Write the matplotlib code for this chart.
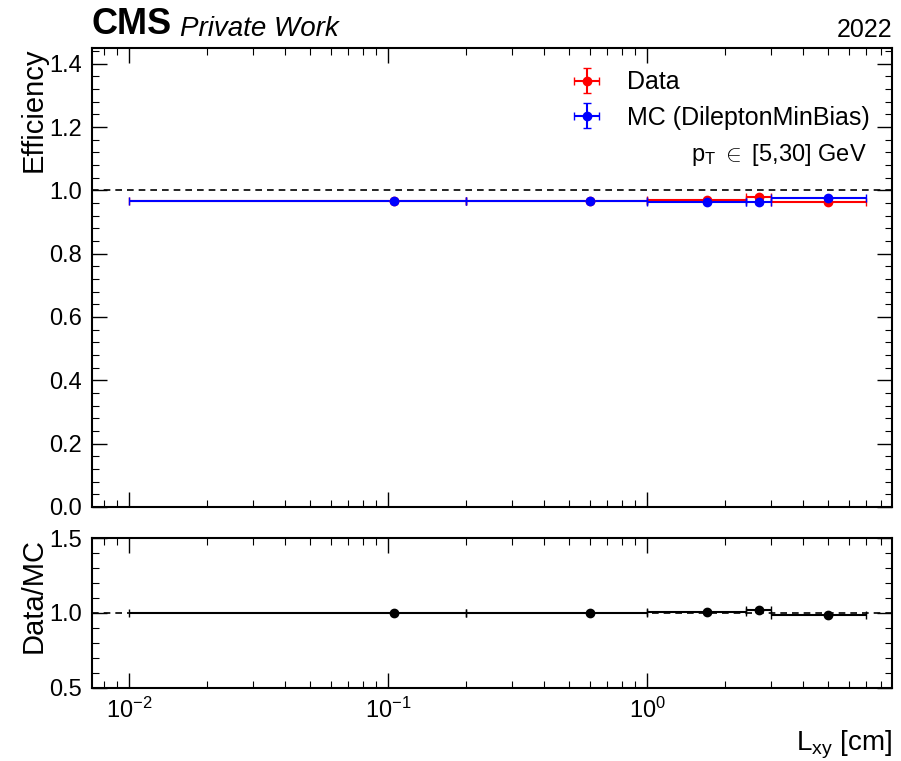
import numpy as np
import matplotlib.pyplot as plt
from matplotlib.ticker import AutoMinorLocator, LogLocator, NullFormatter

# ========= DATA =========
bin_edges = [0.01, 0.2, 1.0, 2.4, 3.0, 7.0]
eff_data = [0.967, 0.967, 0.970, 0.979, 0.964]
err_data = [0.003, 0.003, 0.004, 0.006, 0.004]
eff_mc = [0.965, 0.967, 0.962, 0.963, 0.975]
err_mc = [0.002, 0.002, 0.003, 0.005, 0.003]

year = '2022'
pt_label = r'p$_\mathregular{T}$ $\in$ [5,30] GeV'

# ========= STYLE =========
plt.rcParams['font.family'] = ['Liberation Sans', 'DejaVu Sans']
plt.rcParams['mathtext.fontset'] = 'custom'
plt.rcParams['mathtext.rm'] = 'Liberation Sans'
plt.rcParams['mathtext.it'] = 'Liberation Sans:italic'


def style_axis(ax):
    ax.tick_params(which='both', direction='in', top=True, right=True, labelsize=17)
    ax.tick_params(which='major', length=11, width=1.0, pad=7)
    ax.tick_params(which='minor', length=5, width=0.8)
    ax.yaxis.set_minor_locator(AutoMinorLocator(5))
    ax.xaxis.set_major_locator(LogLocator(base=10, numticks=10))
    ax.xaxis.set_minor_locator(LogLocator(base=10, subs=np.arange(2, 10), numticks=20))
    ax.xaxis.set_minor_formatter(NullFormatter())
    for sp in ax.spines.values():
        sp.set_linewidth(1.5)


edges = np.array(bin_edges)
centers = (edges[:-1] + edges[1:]) / 2
xlo = centers - edges[:-1]
xhi = edges[1:] - centers
ratio = np.array(eff_data) / np.array(eff_mc)
ratio_err = ratio * np.sqrt((np.array(err_data) / eff_data) ** 2 + (np.array(err_mc) / eff_mc) ** 2)

fig = plt.figure(figsize=(9.01, 7.61), dpi=100)
ax = fig.add_axes([0.102, 0.334, 0.888, 0.603])
rax = fig.add_axes([0.102, 0.096, 0.888, 0.197])

xlim = (0.0072, 8.8)

# main panel
ax.errorbar(centers, eff_data, xerr=[xlo, xhi], yerr=err_data, fmt='o', color='red',
            markersize=6, elinewidth=1.5, capsize=3, label='Data')
ax.errorbar(centers, eff_mc, xerr=[xlo, xhi], yerr=err_mc, fmt='o', color='blue',
            markersize=6, elinewidth=1.5, capsize=3, label='MC (DileptonMinBias)')
ax.axhline(1.0, color='black', linestyle='--', linewidth=1.2, dashes=(4, 3))
ax.set_xscale('log')
ax.set_xlim(*xlim)
ax.set_ylim(0, 1.45)
ax.set_yticks(np.arange(0, 1.41, 0.2))
style_axis(ax)
ax.tick_params(labelbottom=False)
ax.set_ylabel('Efficiency', fontsize=21, loc='top', labelpad=1)

leg = ax.legend(loc='upper right', fontsize=18, frameon=False, handlelength=1.6,
                borderaxespad=0.5, labelspacing=0.45)
ax.text(0.969, 0.767, pt_label, transform=ax.transAxes, ha='right', va='center', fontsize=17)

ax.text(0.0, 1.012, 'CMS', transform=ax.transAxes, ha='left', va='bottom',
        fontsize=26, fontweight='bold')
ax.text(0.11, 1.012, 'Private Work', transform=ax.transAxes, ha='left', va='bottom',
        fontsize=20, style='italic')
ax.text(1.0, 1.012, year, transform=ax.transAxes, ha='right', va='bottom', fontsize=18)

# ratio panel
rax.errorbar(centers, ratio, xerr=[xlo, xhi], yerr=ratio_err, fmt='o', color='black',
             markersize=6, elinewidth=1.5, capsize=3)
rax.axhline(1.0, color='black', linestyle='--', linewidth=1.2, dashes=(4, 3))
rax.set_xscale('log')
rax.set_xlim(*xlim)
rax.set_ylim(0.5, 1.5)
rax.set_yticks([0.5, 1.0, 1.5])
style_axis(rax)
rax.set_ylabel('Data/MC', fontsize=21, loc='top', labelpad=1)
rax.set_xlabel(r'L$_\mathregular{xy}$ [cm]', fontsize=20, loc='right')

fig.align_ylabels([ax, rax])
fig.savefig('out.png', dpi=100)
